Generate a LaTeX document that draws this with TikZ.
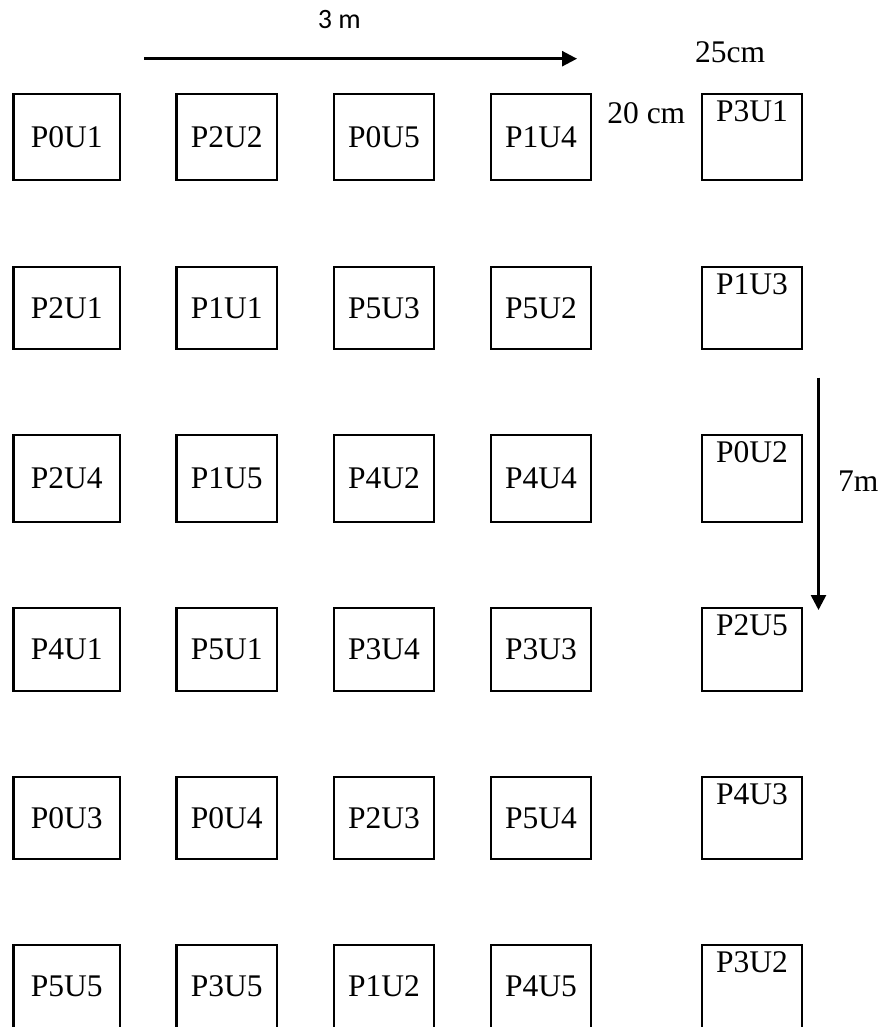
\documentclass[tikz,border=0pt]{standalone}
\usepackage{fontspec}
\setmainfont{Liberation Serif}
\newfontfamily\calibfont{Carlito}
\usetikzlibrary{arrows.meta,calc}
\begin{document}
\begin{tikzpicture}[x=1pt,y=-1pt,
  cell/.style={draw, line width=2.6pt, inner sep=0pt, rectangle,
    font=\fontsize{31.5}{37}\selectfont},
  lbl/.style={inner sep=0pt, anchor=base, font=\fontsize{31.5}{37}\selectfont},
  arr/.style={line width=2.6pt, -{Triangle[length=15pt,width=15pt]}}]
\useasboundingbox (0,0) rectangle (878,1027);
\clip (0,0) rectangle (878,1027);
\fill[white] (0,0) rectangle (878,1027);
% column centres / widths
\def\cxa{66.7}\def\cwa{106.5}
\def\cxb{226.8}\def\cwb{100.3}
\def\cxc{384}\def\cwc{100.3}
\def\cxd{541}\def\cwd{100.3}
\def\cxe{751.9}\def\cwe{100}
% rows: centre, height
\def\rowbox#1#2#3#4#5#6#7#8{%
  \node[cell, minimum width=\cwa pt, minimum height=#3pt] (#1a) at (\cxa,#2) {#4};
  \node[cell, minimum width=\cwb pt, minimum height=#3pt] (#1b) at (\cxb,#2) {#5};
  \node[cell, minimum width=\cwc pt, minimum height=#3pt] (#1c) at (\cxc,#2) {#6};
  \node[cell, minimum width=\cwd pt, minimum height=#3pt] (#1d) at (\cxd,#2) {#7};
  \node[cell, minimum width=\cwe pt, minimum height=#3pt] (#1e) at (\cxe,#2) {};
  \node[lbl] (#1t) at ($(#1e.north)+(0,28.8)$) {#8};
}
\rowbox{ra}{137}{85.7}{P0U1}{P2U2}{P0U5}{P1U4}{P3U1}
\rowbox{rb}{308}{81.7}{P2U1}{P1U1}{P5U3}{P5U2}{P1U3}
\rowbox{rc}{478.5}{86.7}{P2U4}{P1U5}{P4U2}{P4U4}{P0U2}
\rowbox{rd}{649.5}{82.7}{P4U1}{P5U1}{P3U4}{P3U3}{P2U5}
\rowbox{re}{818}{81.7}{P0U3}{P0U4}{P2U3}{P5U4}{P4U3}
\rowbox{rf}{986.6}{83}{P5U5}{P3U5}{P1U2}{P4U5}{P3U2}
% dimension arrows
\coordinate (h1) at (144,58.7);
\coordinate (h2) at (577,58.7);
\draw[arr] (h1) -- (h2);
\coordinate (v1) at (818.5,377.5);
\coordinate (v2) at (818.5,610);
\draw[arr] (v1) -- (v2);
% labels
\node[inner sep=0pt, anchor=base, font=\calibfont\fontsize{28}{34}\selectfont] (l3m) at (339.2,28.3) {3 m};
\node[lbl] (l25) at (730,62.3) {25cm};
\node[lbl] (l20) at (646.3,123.3) {20 cm};
\node[lbl, anchor=base west] (l7) at (838,491) {7m};
\end{tikzpicture}
\end{document}
